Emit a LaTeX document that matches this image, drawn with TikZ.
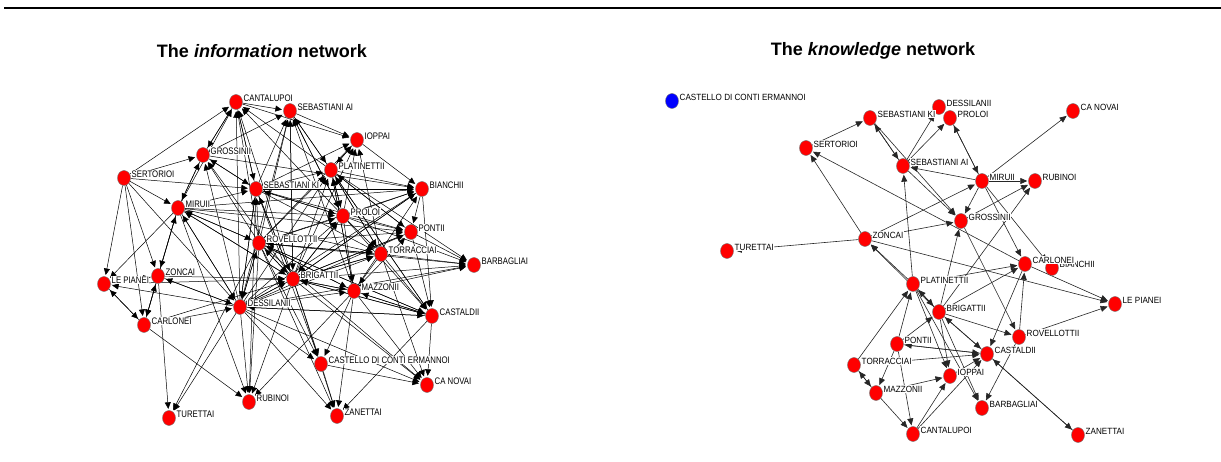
\documentclass[tikz,border=0pt]{standalone}
\usepackage{fontspec}
\setmainfont{Liberation Sans}
\newfontfamily\lblfontA[FakeStretch=0.82]{Liberation Sans}
\newfontfamily\lblfontB[FakeStretch=0.9]{Liberation Sans}
\usetikzlibrary{arrows.meta,shapes.geometric}
\pgfdeclarelayer{edgelayer}
\pgfsetlayers{edgelayer,main}
\begin{document}
\begin{tikzpicture}[x=1pt,y=-1pt,
  vtx/.style={ellipse,draw=black!55,line width=0.4pt,fill=red,minimum width=13pt,minimum height=15pt,inner sep=0pt},
  bvtx/.style={vtx,fill=blue},
  lblA/.style={font=\lblfontA\fontsize{9.5}{10}\selectfont,fill=white,inner sep=0.5pt,anchor=west},
  lblB/.style={font=\lblfontB\fontsize{9}{10}\selectfont,fill=white,inner sep=0.5pt,anchor=west},
  edgeA/.style={line width=0.5pt,black,-{Triangle[length=6.5pt,width=6pt]},shorten >=1.5pt},
  edgeB/.style={line width=0.6pt,black!85,-{Triangle[length=7pt,width=6pt]},shorten >=1pt},
  title/.style={font=\bfseries\fontsize{18}{21}\selectfont,inner sep=0pt}
]
\useasboundingbox (0,0) rectangle (1221,462);
\coordinate (r1) at (4,8);
\coordinate (r2) at (1221,8);
\draw[line width=2.5pt] (r1) -- (r2);
\node[title] (t1) at (262,51) {The \textit{information} network};
\node[title] (t2) at (873,51) {The \textit{knowledge} network};

% ---------- left network ----------
\newcommand\va[4]{\node[vtx] (a#1) at (#2,#3) {};\node[lblA] (a#1t) at ([xshift=0.3pt,yshift=4pt]a#1.east) {#4};}
\va{BARB}{474}{265}{BARBAGLIAI}
\va{BIAN}{422}{189}{BIANCHII}
\va{CANT}{236}{102}{CANTALUPOI}
\va{SEBA}{290}{111}{SEBASTIANI AI}
\va{IOPP}{357}{140}{IOPPAI}
\va{GROS}{203}{155}{GROSSINII}
\va{PLAT}{331}{170}{PLATINETTII}
\va{SERT}{124}{178}{SERTORIOI}
\va{SEBK}{256}{189}{SEBASTIANI KI}
\va{MIRU}{178}{208}{MIRUII}
\va{PROL}{343}{216}{PROLOI}
\va{PONT}{411}{232}{PONTII}
\va{ROVE}{259}{243}{ROVELLOTTII}
\va{TORR}{381}{254}{TORRACCIAI}
\va{ZONC}{158}{276}{ZONCAI}
\va{LEPI}{104}{284}{LE PIANEI}
\va{BRIG}{293}{279}{BRIGATTII}
\va{MAZZ}{354}{291}{MAZZONII}
\va{DESS}{240}{307}{DESSILANII}
\va{CAST}{432}{316}{CASTALDII}
\va{CARL}{144}{325}{CARLONEI}
\va{CDCE}{321}{364}{CASTELLO DI CONTI ERMANNOI}
\va{CANO}{427}{385}{CA NOVAI}
\va{RUBI}{249}{402}{RUBINOI}
\va{ZANE}{337}{416}{ZANETTAI}
\va{TURE}{169}{418}{TURETTAI}

\begin{pgfonlayer}{edgelayer}
\foreach \t/\ss in {
 CANT/{GROS,SERT,SEBK,ROVE,BRIG,PROL,MIRU,DESS,PLAT},
 SEBA/{SEBK,ROVE,BRIG,PROL,PLAT,DESS,MAZZ,GROS,CANT},
 IOPP/{PLAT,SEBK,ROVE,BRIG,PROL,CANT,TORR,SEBA},
 GROS/{MIRU,ROVE,BRIG,SEBK,DESS,SERT,CANT},
 PLAT/{ROVE,BRIG,DESS,MAZZ,SEBK,TORR,PONT,PROL,CAST,SEBA,IOPP},
 SEBK/{MIRU,SERT,ROVE,BRIG,DESS,PROL,GROS,CANT},
 MIRU/{SERT,ROVE,BRIG,DESS,GROS,ZONC},
 BIAN/{PLAT,SEBK,ROVE,BRIG,PROL,MIRU,DESS,MAZZ,GROS,IOPP},
 PROL/{SEBK,ROVE,BRIG,DESS,MIRU,PLAT,SEBA},
 PONT/{ROVE,BRIG,PROL,DESS,MIRU,SEBK,MAZZ,PLAT,BIAN},
 ROVE/{BRIG,DESS,MAZZ,TORR,CAST,MIRU},
 TORR/{ROVE,BRIG,DESS,SEBK,MIRU,PROL,PLAT},
 BARB/{PROL,TORR,BRIG,ROVE,PLAT,MAZZ,PONT,DESS},
 BRIG/{DESS,ZONC,ROVE,MIRU,LEPI,CARL,SEBK,MAZZ,CAST,TORR,PROL,BIAN,PONT,SEBA},
 MAZZ/{BRIG,DESS,ROVE,TORR,CAST,PROL,PLAT},
 DESS/{ZONC,ROVE,SEBK,BRIG,MIRU,CARL,CAST,SERT},
 CAST/{BRIG,MAZZ,ROVE,DESS,TORR,PROL,PONT,BIAN,PLAT},
 ZONC/{SERT,MIRU,CARL,DESS,LEPI},
 LEPI/{SERT,ZONC,CARL,MIRU,DESS},
 CARL/{SERT,ZONC,LEPI,MIRU},
 CDCE/{BRIG,ROVE,DESS,SEBK,MAZZ},
 CANO/{CAST,MAZZ,BRIG,ROVE,DESS,CDCE,TORR},
 RUBI/{DESS,CARL,BRIG,ROVE,MIRU,MAZZ,SEBK},
 ZANE/{CDCE,MAZZ,BRIG,CAST,DESS,ROVE},
 TURE/{DESS,ZONC,ROVE}}
 { \foreach \s in \ss { \draw[edgeA] (a\s) -- (a\t); } }
\end{pgfonlayer}

% ---------- right network ----------
\newcommand\vb[4]{\node[vtx] (b#1) at (#2,#3) {};\node[lblB] (b#1t) at ([xshift=0.3pt,yshift=4pt]b#1.east) {#4};}
\node[bvtx] (bCDCE) at (672,101) {};
\node[lblB] (bCDCEt) at ([xshift=0.3pt,yshift=4pt]bCDCE.east) {CASTELLO DI CONTI ERMANNOI};
\vb{DESS}{939}{107}{DESSILANII}
\vb{PROL}{950}{118}{PROLOI}
\vb{SEBK}{870}{118}{SEBASTIANI KI}
\vb{CANO}{1073}{111}{CA NOVAI}
\vb{SERT}{806}{148}{SERTORIOI}
\vb{SEBA}{903}{166}{SEBASTIANI AI}
\vb{MIRU}{982}{181}{MIRUII}
\vb{RUBI}{1035}{181}{RUBINOI}
\vb{GROS}{961}{221}{GROSSINII}
\vb{ZONC}{865}{239}{ZONCAI}
\vb{TURE}{727}{251}{TURETTAI}
\vb{BIAN}{1052}{268}{BIANCHII}
\vb{CARL}{1025}{264}{CARLONEI}
\vb{PLAT}{913}{284}{PLATINETTII}
\vb{LEPI}{1115}{304}{LE PIANEI}
\vb{BRIG}{939}{312}{BRIGATTII}
\vb{ROVE}{1019}{337}{ROVELLOTTII}
\vb{PONT}{897}{344}{PONTII}
\vb{CAST}{987}{354}{CASTALDII}
\vb{TORR}{854}{365}{TORRACCIAI}
\vb{IOPP}{950}{376}{IOPPAI}
\vb{MAZZ}{876}{393}{MAZZONII}
\vb{BARB}{982}{408}{BARBAGLIAI}
\vb{CANT}{913}{434}{CANTALUPOI}
\vb{ZANE}{1078}{435}{ZANETTAI}

\begin{pgfonlayer}{edgelayer}
\foreach \s/\t in {
 ZONC/SERT, CARL/SERT, SERT/SEBK, SEBA/SEBK, SEBK/SEBA, SEBK/GROS,
 ZONC/TURE, ZONC/LEPI, PLAT/ZONC, BRIG/ZONC,
 SEBA/DESS, SEBA/PROL, PROL/MIRU, MIRU/PROL, MIRU/SEBA, MIRU/CANO,
 MIRU/RUBI, MIRU/GROS, MIRU/CARL, MIRU/BIAN, GROS/RUBI, BRIG/RUBI,
 ZONC/GROS, ZONC/MIRU, SEBA/GROS, PLAT/SEBA, BRIG/GROS, GROS/ROVE,
 PLAT/CARL, BRIG/CARL, PLAT/BRIG, BRIG/PLAT, PLAT/IOPP, PLAT/BARB,
 BRIG/ROVE, BRIG/CAST, CAST/BRIG, ROVE/LEPI, ROVE/CARL, CARL/LEPI,
 CARL/CAST, ROVE/BARB, CAST/ZANE, ZANE/CAST, IOPP/CAST, TORR/CAST,
 PONT/CAST, MAZZ/IOPP, CANT/IOPP, CANT/CAST, BRIG/IOPP, BRIG/BARB,
 PONT/BRIG, TORR/PLAT, PONT/PLAT, TORR/MAZZ, MAZZ/TORR, PONT/MAZZ,
 MAZZ/CANT, PONT/CANT, CAST/PONT}
 { \draw[edgeB] (b\s) -- (b\t); }
\end{pgfonlayer}
\end{tikzpicture}
\end{document}
